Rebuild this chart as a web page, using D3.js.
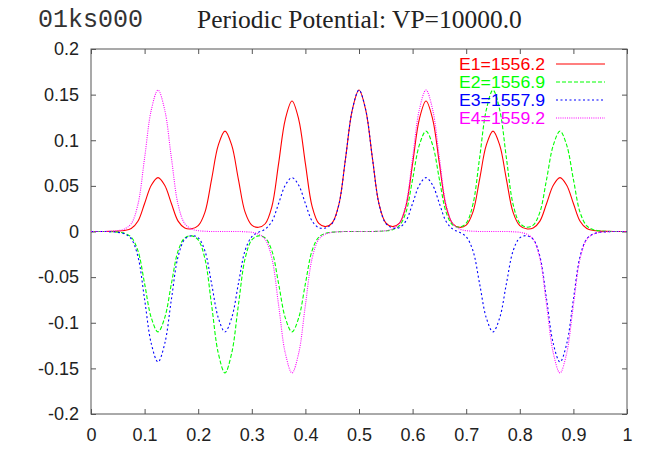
<!DOCTYPE html>
<html>
<head>
<meta charset="utf-8">
<script src="https://cdn.jsdelivr.net/npm/d3@7/dist/d3.min.js"></script>
<style>
  body { margin: 0; background: #fff; }
  .axis text { font-family: "Liberation Sans", Arial, sans-serif; font-size: 18px; fill: #222; }
  .axis line { stroke: #555; }
  .legend text { font-family: "Liberation Sans", Arial, sans-serif; font-size: 16px; }
</style>
</head>
<body>
<div id="chart"></div>
<script>
var width = 659;
var height = 450;
var margin = { top: 49, right: 32, bottom: 36, left: 91 };

var runLabel = "01ks000";
var title = "Periodic Potential: VP=10000.0";

var xTicks = [0, 0.1, 0.2, 0.3, 0.4, 0.5, 0.6, 0.7, 0.8, 0.9, 1];
var yTicks = [-0.2, -0.15, -0.1, -0.05, 0, 0.05, 0.1, 0.15, 0.2];

var seriesNames = ["E1=1556.2", "E2=1556.9", "E3=1557.9", "E4=1559.2"];

// sample positions along the box
var xs = [
  0, 0.0125, 0.025, 0.0375, 0.05, 0.0625, 0.075, 0.0875, 0.1, 0.1125,
  0.125, 0.1375, 0.15, 0.1625, 0.175, 0.1875, 0.2, 0.2125, 0.225, 0.2375,
  0.25, 0.2625, 0.275, 0.2875, 0.3, 0.3125, 0.325, 0.3375, 0.35, 0.3625,
  0.375, 0.3875, 0.4, 0.4125, 0.425, 0.4375, 0.45, 0.4625, 0.475, 0.4875,
  0.5, 0.5125, 0.525, 0.5375, 0.55, 0.5625, 0.575, 0.5875, 0.6, 0.6125,
  0.625, 0.6375, 0.65, 0.6625, 0.675, 0.6875, 0.7, 0.7125, 0.725, 0.7375,
  0.75, 0.7625, 0.775, 0.7875, 0.8, 0.8125, 0.825, 0.8375, 0.85, 0.8625,
  0.875, 0.8875, 0.9, 0.9125, 0.925, 0.9375, 0.95, 0.9625, 0.975, 0.9875,
  1
];

var e1 = [
  0, 0, 0, 0.0001, 0.0004, 0.0011, 0.0032, 0.0112, 0.0307, 0.0507,
  0.059, 0.0507, 0.0307, 0.0114, 0.0039, 0.0030, 0.0064, 0.0210, 0.0572, 0.0946,
  0.110, 0.0946, 0.0572, 0.0212, 0.0069, 0.0046, 0.0085, 0.0274, 0.0744, 0.1230,
  0.143, 0.1230, 0.0744, 0.0275, 0.0088, 0.0054, 0.0094, 0.0297, 0.0806, 0.1333,
  0.155, 0.1333, 0.0806, 0.0297, 0.0094, 0.0054, 0.0088, 0.0275, 0.0744, 0.1230,
  0.143, 0.1230, 0.0744, 0.0274, 0.0085, 0.0046, 0.0069, 0.0212, 0.0572, 0.0946,
  0.110, 0.0946, 0.0572, 0.0210, 0.0064, 0.0030, 0.0039, 0.0114, 0.0307, 0.0507,
  0.059, 0.0507, 0.0307, 0.0112, 0.0032, 0.0011, 0.0004, 0.0001, 0, 0,
  0
];

var e2 = [
  0, 0, 0, -0.0002, -0.0007, -0.0020, -0.0061, -0.0209, -0.0572, -0.0946,
  -0.110, -0.0946, -0.0572, -0.0212, -0.0070, -0.0048, -0.0092, -0.0297, -0.0806, -0.1333,
  -0.155, -0.1333, -0.0806, -0.0297, -0.0092, -0.0048, -0.0070, -0.0212, -0.0572, -0.0946,
  -0.110, -0.0946, -0.0572, -0.0209, -0.0061, -0.0020, -0.0007, -0.0002, 0, 0,
  0, 0, 0, 0.0002, 0.0007, 0.0020, 0.0061, 0.0209, 0.0572, 0.0946,
  0.110, 0.0946, 0.0572, 0.0212, 0.0070, 0.0048, 0.0092, 0.0297, 0.0806, 0.1333,
  0.155, 0.1333, 0.0806, 0.0297, 0.0092, 0.0048, 0.0070, 0.0212, 0.0572, 0.0946,
  0.110, 0.0946, 0.0572, 0.0209, 0.0061, 0.0020, 0.0007, 0.0002, 0, 0,
  0
];

var e3 = [
  0, 0, 0, -0.0003, -0.0009, -0.0026, -0.0079, -0.0272, -0.0744, -0.1230,
  -0.143, -0.1230, -0.0744, -0.0274, -0.0085, -0.0046, -0.0069, -0.0212, -0.0572, -0.0946,
  -0.110, -0.0946, -0.0572, -0.0208, -0.0057, -0.0009, 0.0026, 0.0110, 0.0307, 0.0507,
  0.059, 0.0507, 0.0307, 0.0115, 0.0042, 0.0039, 0.0089, 0.0296, 0.0806, 0.1333,
  0.155, 0.1333, 0.0806, 0.0296, 0.0089, 0.0039, 0.0042, 0.0115, 0.0307, 0.0507,
  0.059, 0.0507, 0.0307, 0.0110, 0.0026, -0.0009, -0.0057, -0.0208, -0.0572, -0.0946,
  -0.110, -0.0946, -0.0572, -0.0212, -0.0069, -0.0046, -0.0085, -0.0274, -0.0744, -0.1230,
  -0.143, -0.1230, -0.0744, -0.0272, -0.0079, -0.0026, -0.0009, -0.0003, 0, 0,
  0
];

var e4 = [
  0, 0, 0, 0.0003, 0.0009, 0.0028, 0.0085, 0.0295, 0.0806, 0.1333,
  0.155, 0.1333, 0.0806, 0.0295, 0.0085, 0.0028, 0.0009, 0.0003, 0, 0,
  0, 0, 0, -0.0003, -0.0009, -0.0028, -0.0085, -0.0295, -0.0806, -0.1333,
  -0.155, -0.1333, -0.0806, -0.0295, -0.0085, -0.0028, -0.0009, -0.0003, 0, 0,
  0, 0, 0, 0.0003, 0.0009, 0.0028, 0.0085, 0.0295, 0.0806, 0.1333,
  0.155, 0.1333, 0.0806, 0.0295, 0.0085, 0.0028, 0.0009, 0.0003, 0, 0,
  0, 0, 0, -0.0003, -0.0009, -0.0028, -0.0085, -0.0295, -0.0806, -0.1333,
  -0.155, -0.1333, -0.0806, -0.0295, -0.0085, -0.0028, -0.0009, -0.0003, 0, 0,
  0
];

var colors = ["#ff0000", "#00ff00", "#0000ff", "#ff00ff"];
var dashes = [null, "4,2", "2,2.5", "1,1.2"];

var series = [e1, e2, e3, e4].map(function(ys, i) {
  return {
    name: seriesNames[i],
    color: colors[i],
    dash: dashes[i],
    points: xs.map(function(x, j) { return [x, ys[j]]; })
  };
});

var innerW = width - margin.left - margin.right;
var innerH = height - margin.top - margin.bottom;

var x = d3.scaleLinear().domain([0, 1]).range([0, innerW]);
var y = d3.scaleLinear().domain([-0.2, 0.2]).range([innerH, 0]);

// plain hyphen for negatives, like the original plot
function plain(d) { return String(+d.toFixed(2)); }

var svg = d3.select("#chart").append("svg")
  .attr("width", width)
  .attr("height", height);

svg.append("text")
  .attr("x", 38)
  .attr("y", 27)
  .style("font-family", "'Liberation Mono', 'DejaVu Sans Mono', monospace")
  .style("font-size", "25px")
  .style("fill", "#333")
  .text(runLabel);

svg.append("text")
  .attr("x", 197)
  .attr("y", 28)
  .style("font-family", "'Liberation Serif', 'Times New Roman', serif")
  .style("font-size", "25.5px")
  .style("fill", "#222")
  .text(title);

var g = svg.append("g")
  .attr("transform", "translate(" + margin.left + "," + margin.top + ")");

g.append("clipPath")
  .attr("id", "clip")
  .append("rect")
    .attr("width", innerW)
    .attr("height", innerH);

var tick = 5;

g.append("g")
  .attr("class", "axis")
  .call(d3.axisLeft(y).tickValues(yTicks).tickSize(-tick).tickPadding(12).tickFormat(plain))
  .call(function(s) { s.select(".domain").remove(); });

g.append("g")
  .attr("class", "axis")
  .attr("transform", "translate(0," + innerH + ")")
  .call(d3.axisBottom(x).tickValues(xTicks).tickSize(-tick).tickPadding(14).tickFormat(plain))
  .call(function(s) { s.select(".domain").remove(); });

g.append("g")
  .attr("class", "axis")
  .call(d3.axisTop(x).tickValues(xTicks).tickSize(-tick).tickFormat(""))
  .call(function(s) { s.select(".domain").remove(); });

g.append("g")
  .attr("class", "axis")
  .attr("transform", "translate(" + innerW + ",0)")
  .call(d3.axisRight(y).tickValues(yTicks).tickSize(-tick).tickFormat(""))
  .call(function(s) { s.select(".domain").remove(); });

g.append("rect")
  .attr("width", innerW)
  .attr("height", innerH)
  .attr("fill", "none")
  .attr("stroke", "#555")
  .attr("stroke-width", 1);

var line = d3.line()
  .x(function(d) { return x(d[0]); })
  .y(function(d) { return y(d[1]); })
  .curve(d3.curveCatmullRom.alpha(0.5));

g.append("g")
  .attr("clip-path", "url(#clip)")
  .selectAll("path")
  .data(series)
  .enter()
  .append("path")
    .attr("d", function(d) { return line(d.points); })
    .attr("fill", "none")
    .attr("stroke", function(d) { return d.color; })
    .attr("stroke-width", 1.1)
    .attr("stroke-dasharray", function(d) { return d.dash; });

var legend = svg.append("g")
  .attr("class", "legend")
  .selectAll("g")
  .data(series)
  .enter()
  .append("g")
    .attr("transform", function(d, i) { return "translate(0," + (64 + i * 18) + ")"; });

legend.append("text")
  .attr("x", 545)
  .attr("dy", "0.36em")
  .attr("text-anchor", "end")
  .attr("textLength", 86)
  .attr("lengthAdjust", "spacingAndGlyphs")
  .style("fill", function(d) { return d.color; })
  .text(function(d) { return d.name; });

legend.append("line")
  .attr("x1", 556)
  .attr("x2", 605)
  .attr("stroke", function(d) { return d.color; })
  .attr("stroke-width", 1.1)
  .attr("stroke-dasharray", function(d) { return d.dash; });
</script>
</body>
</html>
